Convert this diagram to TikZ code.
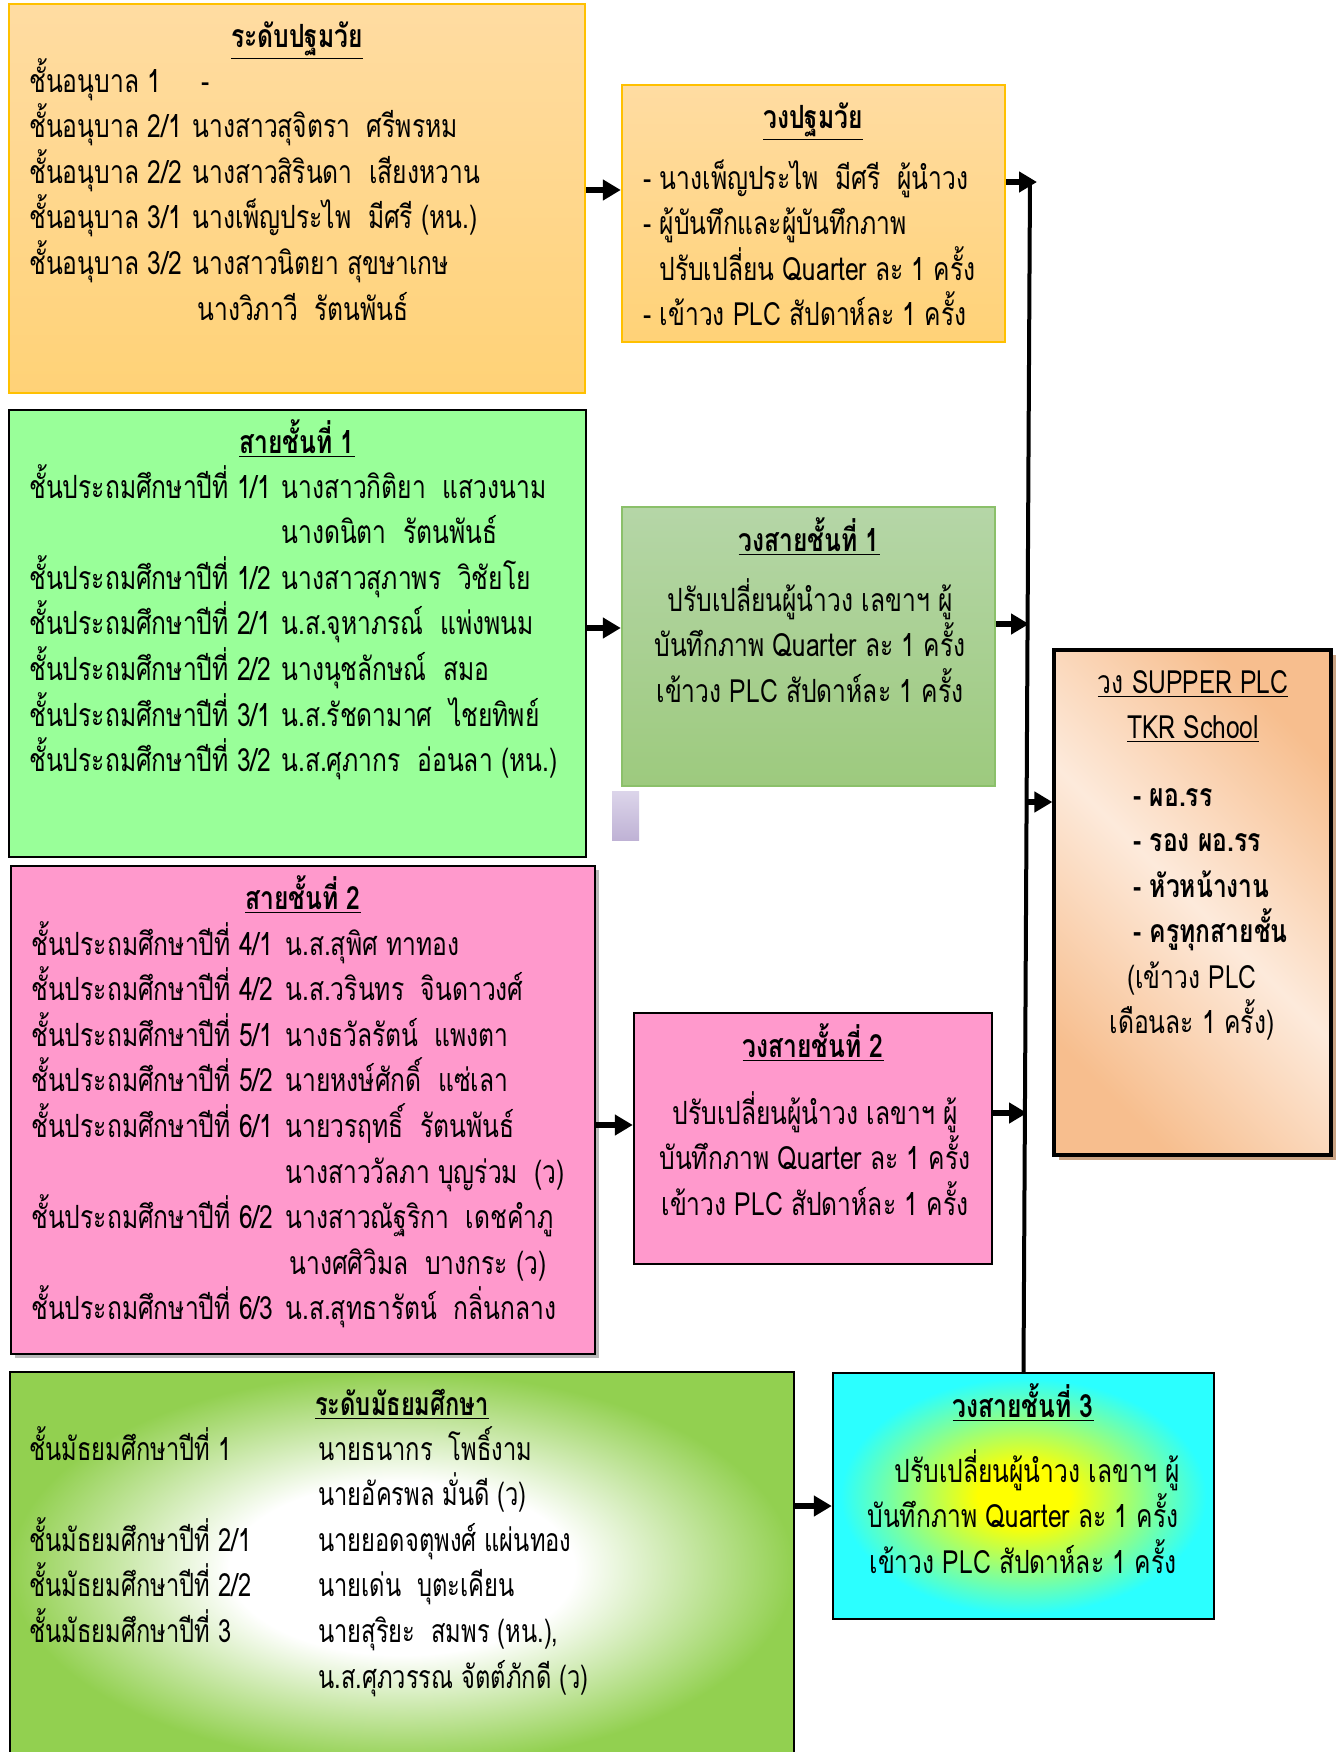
\documentclass[tikz,border=0pt]{standalone}
\usepackage{fontspec}
\setmainfont[Script=Thai,FakeStretch=0.77]{Loma}
\newfontfamily\thinthai[Script=Thai,FakeStretch=0.74]{Loma}
\usetikzlibrary{arrows.meta,fit,shadows}

\definecolor{kindertop}{HTML}{FFDCA2}
\definecolor{kinderbottom}{HTML}{FFD277}
\definecolor{kinderline}{HTML}{FFC000}
\definecolor{gradegreen}{HTML}{99FF99}
\definecolor{circletop}{HTML}{B5D6A7}
\definecolor{circlebottom}{HTML}{9DCA7E}
\definecolor{circleline}{HTML}{8BC06A}
\definecolor{gradepink}{HTML}{FF99CC}
\definecolor{plcdark}{HTML}{F7BE8E}
\definecolor{plclight}{HTML}{FDEADB}
\definecolor{plcshadow}{HTML}{C9A384}
\definecolor{secgreen}{HTML}{92D050}
\definecolor{ringcyan}{HTML}{2BFFFF}
\definecolor{straytop}{HTML}{DCD5EA}
\definecolor{straybottom}{HTML}{BFB2D5}

\pgfdeclareradialshading{sec_glow}{\pgfpoint{0bp}{0bp}}{color(0bp)=(white);color(11bp)=(white);color(25bp)=(secgreen);color(50bp)=(secgreen)}
\pgfdeclareradialshading{ring_glow}{\pgfpoint{0bp}{0bp}}{color(0bp)=(yellow);color(6bp)=(yellow);color(24bp)=(ringcyan);color(50bp)=(ringcyan)}

\newcommand{\leftrows}[1]{\vtop{\baselineskip=22.8pt\lineskiplimit=-100pt\lineskip=0pt\halign{##\hfil\cr#1\crcr}}}
\newcommand{\midrows}[1]{\vtop{\baselineskip=22.8pt\lineskiplimit=-100pt\lineskip=0pt\halign{\hfil##\hfil\cr#1\crcr}}}

\begin{document}
\begin{tikzpicture}[x=0.5pt,y=-0.5pt,
	box_frame/.style={inner sep=0pt,line width=1.2pt},
	row_text/.style={inner sep=0pt,anchor=base west,font=\fontsize{16}{22.8}\selectfont},
	mid_text/.style={inner sep=0pt,anchor=base,font=\fontsize{16}{22.8}\selectfont},
	head_text/.style={inner sep=0pt,anchor=base,font=\fontsize{16}{22.8}\selectfont\bfseries},
	flow/.style={line width=3pt,-{Triangle[length=9pt,width=10pt]}},
	bus/.style={line width=2pt}]

	\useasboundingbox (0,0) rectangle (1337,1752);

	\node[box_frame,draw=kinderline,top color=kindertop,bottom color=kinderbottom,fit={(9,4) (585,393)}] (kinder_box) {};
	\node[box_frame,draw=kinderline,top color=kindertop,bottom color=kinderbottom,fit={(622,85) (1005,342)}] (kinder_ring) {};
	\node[box_frame,draw=black,fill=gradegreen,fit={(9,410) (586,857)}] (grade1_box) {};
	\node[box_frame,draw=circleline,top color=circletop,bottom color=circlebottom,fit={(622,507) (995,786)}] (grade1_ring) {};
	\node[inner sep=0pt,top color=straytop,bottom color=straybottom,fit={(612,791) (639,840)}] (stray_box) {};
	\node[box_frame,draw=black,fill=gradepink,drop shadow={shadow xshift=2pt,shadow yshift=-2pt,fill=gray!55,opacity=1},fit={(11,866) (595,1354)}] (grade2_box) {};
	\node[box_frame,draw=black,fill=gradepink,fit={(634,1013) (992,1264)}] (grade2_ring) {};
	\node[box_frame,draw=black,line width=1.6pt,drop shadow={shadow xshift=2.5pt,shadow yshift=-2.5pt,fill=plcshadow,opacity=1},top color=plcdark,bottom color=plcdark,middle color=plclight,shading angle=-45,fit={(1054,650) (1331,1155)}] (plc_box) {};
	\node[box_frame,draw=black,shading=sec_glow,fit={(10,1372) (794,1765)}] (second_box) {};
	\node[box_frame,draw=black,shading=ring_glow,fit={(833,1373) (1214,1619)}] (grade3_ring) {};

	\node[head_text] (kinder_head) at (297,47) {\underline{ระดับปฐมวัย}};
	\node[row_text] (kinder_left) at (29,92) {\leftrows{ชั้นอนุบาล 1\cr ชั้นอนุบาล 2/1\cr ชั้นอนุบาล 2/2\cr ชั้นอนุบาล 3/1\cr ชั้นอนุบาล 3/2}};
	\node[row_text] (kinder_right) at (192,92) {\leftrows{\kern4.5pt -\cr นางสาวสุจิตรา~~ศรีพรหม\cr นางสาวสิรินดา~~เสียงหวาน\cr นางเพ็ญประไพ~~มีศรี (หน.)\cr นางสาวนิตยา สุขษาเกษ\cr \kern2.5pt นางวิภาวี~~รัตนพันธ์}};

	\node[head_text] (kinder_ring_head) at (813,128) {\underline{วงปฐมวัย}};
	\node[row_text] (kinder_ring_text) at (643,189) {\leftrows{- นางเพ็ญประไพ~~มีศรี~~ผู้นำวง\cr - ผู้บันทึกและผู้บันทึกภาพ\cr \kern8pt ปรับเปลี่ยน Quarter ละ 1 ครั้ง\cr - เข้าวง PLC สัปดาห์ละ 1 ครั้ง}};

	\node[head_text] (grade1_head) at (297,453) {\underline{สายชั้นที่ 1}};
	\node[row_text] (grade1_left) at (29,498) {\leftrows{ชั้นประถมศึกษาปีที่ 1/1\cr \cr ชั้นประถมศึกษาปีที่ 1/2\cr ชั้นประถมศึกษาปีที่ 2/1\cr ชั้นประถมศึกษาปีที่ 2/2\cr ชั้นประถมศึกษาปีที่ 3/1\cr ชั้นประถมศึกษาปีที่ 3/2}};
	\node[row_text] (grade1_right) at (281,498) {\leftrows{นางสาวกิติยา~~แสวงนาม\cr นางดนิตา~~รัตนพันธ์\cr นางสาวสุภาพร~~วิชัยโย\cr น.ส.จุหาภรณ์~~แพ่งพนม\cr นางนุชลักษณ์~~สมอ\cr น.ส.รัชดามาศ~~ไชยทิพย์\cr น.ส.ศุภากร~~อ่อนลา (หน.)}};

	\node[head_text] (grade1_ring_head) at (809,551) {\underline{วงสายชั้นที่ 1}};
	\node[mid_text] (grade1_ring_text) at (810,611) {\midrows{ปรับเปลี่ยนผู้นำวง เลขาฯ ผู้\cr บันทึกภาพ Quarter ละ 1 ครั้ง\cr เข้าวง PLC สัปดาห์ละ 1 ครั้ง}};

	\node[head_text] (grade2_head) at (303,909) {\underline{สายชั้นที่ 2}};
	\node[row_text] (grade2_left) at (31,955) {\leftrows{ชั้นประถมศึกษาปีที่ 4/1\cr ชั้นประถมศึกษาปีที่ 4/2\cr ชั้นประถมศึกษาปีที่ 5/1\cr ชั้นประถมศึกษาปีที่ 5/2\cr ชั้นประถมศึกษาปีที่ 6/1\cr \cr ชั้นประถมศึกษาปีที่ 6/2\cr \cr ชั้นประถมศึกษาปีที่ 6/3}};
	\node[row_text] (grade2_right) at (285,955) {\leftrows{น.ส.สุพิศ ทาทอง\cr น.ส.วรินทร~~จินดาวงศ์\cr นางธวัลรัตน์~~แพงตา\cr นายหงษ์ศักดิ์~~แซ่เลา\cr นายวรฤทธิ์~~รัตนพันธ์\cr นางสาววัลภา บุญร่วม~~(ว)\cr นางสาวณัฐริกา~~เดชคำภู\cr \kern2pt นางศศิวิมล~~บางกระ (ว)\cr น.ส.สุทธารัตน์~~กลิ่นกลาง}};

	\node[head_text] (grade2_ring_head) at (813,1057) {\underline{วงสายชั้นที่ 2}};
	\node[mid_text] (grade2_ring_text) at (815,1124) {\midrows{ปรับเปลี่ยนผู้นำวง เลขาฯ ผู้\cr บันทึกภาพ Quarter ละ 1 ครั้ง\cr เข้าวง PLC สัปดาห์ละ 1 ครั้ง}};

	\node[mid_text] (plc_head) at (1193,693) {\midrows{\underline{วง SUPPER PLC}\cr \underline{TKR School}}};
	\node[row_text,font=\fontsize{16}{22.8}\selectfont\bfseries] (plc_list) at (1133,806) {\leftrows{- ผอ.รร\cr - รอง ผอ.รร\cr - หัวหน้างาน\cr - ครูทุกสายชั้น}};
	\node[mid_text] (plc_note) at (1192,988) {\midrows{(เข้าวง PLC\cr เดือนละ 1 ครั้ง)}};

	\node[head_text,font=\thinthai\fontsize{16}{22.8}\selectfont\bfseries] (second_head) at (402,1415) {\underline{ระดับมัธยมศึกษา}};
	\node[row_text,font=\thinthai\fontsize{16}{22.8}\selectfont] (second_left) at (29,1460) {\leftrows{ชั้นมัธยมศึกษาปีที่ 1\cr \cr ชั้นมัธยมศึกษาปีที่ 2/1\cr ชั้นมัธยมศึกษาปีที่ 2/2\cr ชั้นมัธยมศึกษาปีที่ 3}};
	\node[row_text,font=\thinthai\fontsize{16}{22.8}\selectfont] (second_right) at (318,1460) {\leftrows{นายธนากร~~โพธิ์งาม\cr นายอัครพล มั่นดี (ว)\cr นายยอดจตุพงศ์ แผ่นทอง\cr นายเด่น~~บุตะเคียน\cr นายสุริยะ~~สมพร (หน.),\cr น.ส.ศุภวรรณ จัตต์ภักดี (ว)}};

	\node[head_text] (grade3_ring_head) at (1023,1417) {\underline{วงสายชั้นที่ 3}};
	\node[mid_text] (grade3_ring_text) at (1023,1482) {\midrows{\kern14pt ปรับเปลี่ยนผู้นำวง เลขาฯ ผู้\cr บันทึกภาพ Quarter ละ 1 ครั้ง\cr เข้าวง PLC สัปดาห์ละ 1 ครั้ง}};

	\coordinate (bus_top) at (1030,180);
	\coordinate (bus_g1) at (1029,624);
	\coordinate (bus_plc) at (1028,802);
	\coordinate (bus_g2) at (1027,1113);

	\draw[bus] (grade3_ring.north) -- (bus_top);
	\draw[flow] (kinder_box.east |- 0,190) -- (kinder_ring.west |- 0,190);
	\draw[flow] (kinder_ring.east |- 0,182) -- ([xshift=3.5pt]bus_top |- 0,182);
	\draw[flow] (grade1_box.east |- 0,628) -- (grade1_ring.west |- 0,628);
	\draw[flow] (grade1_ring.east |- bus_g1) -- (bus_g1);
	\draw[flow] (bus_plc) -- (plc_box.west |- bus_plc);
	\draw[flow] (grade2_box.east |- 0,1125) -- (grade2_ring.west |- 0,1125);
	\draw[flow] (grade2_ring.east |- bus_g2) -- (bus_g2);
	\draw[flow] (second_box.east |- 0,1506) -- (grade3_ring.west |- 0,1506);
\end{tikzpicture}
\end{document}
